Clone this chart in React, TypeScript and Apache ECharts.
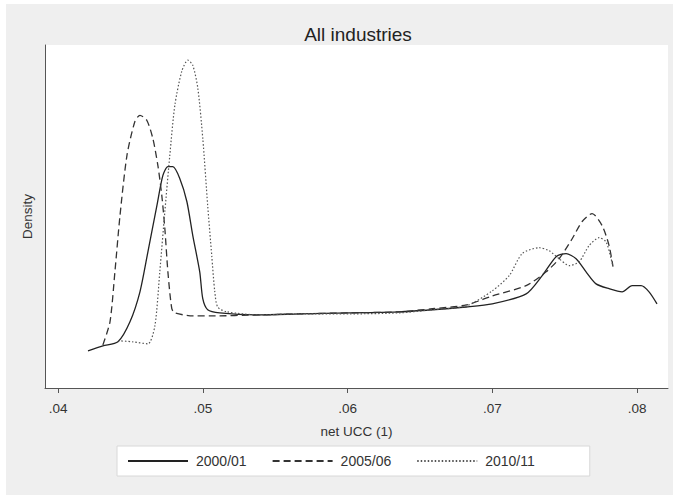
import React, { useEffect, useRef } from "react";
import * as echarts from "echarts";

// net UCC values (x) and estimated density heights (arbitrary units)
const solidX = [0.04207, 0.0431, 0.04414, 0.04497, 0.04566, 0.04621, 0.04683, 0.04724, 0.04759, 0.04793, 0.04841, 0.0489, 0.04931, 0.04979, 0.05, 0.05034, 0.05117, 0.05393, 0.05669, 0.06014, 0.06359, 0.06586, 0.06821, 0.07, 0.07234, 0.07345, 0.07441, 0.0751, 0.07579, 0.07648, 0.07717, 0.07807, 0.07897, 0.07966, 0.08028, 0.08083, 0.08138];
const solidY = [10.8, 12.2, 13.4, 19.2, 27.9, 39.5, 52.9, 61.6, 64.2, 64.2, 60.8, 54.1, 44.2, 33.7, 25.9, 22.7, 21.8, 21.2, 21.5, 21.8, 22.1, 22.7, 23.5, 24.4, 27.3, 32.6, 38.1, 39.0, 37.5, 33.7, 30.2, 28.8, 27.9, 29.7, 29.7, 27.9, 24.4];

const dashedX = [0.0431, 0.04359, 0.04393, 0.04428, 0.04476, 0.04531, 0.04566, 0.04614, 0.04655, 0.0469, 0.04717, 0.04738, 0.04759, 0.04786, 0.04807, 0.04931, 0.05048, 0.05393, 0.05669, 0.06014, 0.06359, 0.06586, 0.06821, 0.07, 0.07234, 0.07372, 0.07462, 0.07552, 0.07621, 0.0769, 0.07759, 0.07807, 0.07834];
const dashedY = [12.5, 19.2, 33.7, 50.0, 67.4, 77.3, 79.1, 77.6, 72.4, 64.5, 55.8, 46.2, 33.7, 23.0, 21.8, 20.9, 20.9, 21.2, 21.5, 21.8, 22.1, 23.0, 24.1, 26.7, 29.7, 33.7, 37.5, 43.3, 48.3, 50.6, 47.1, 41.3, 35.2];

const dottedX = [0.04414, 0.04517, 0.04621, 0.04669, 0.04703, 0.04738, 0.04772, 0.04807, 0.04855, 0.04897, 0.04931, 0.04966, 0.05, 0.05034, 0.05062, 0.05083, 0.05103, 0.05166, 0.05393, 0.05669, 0.06014, 0.06359, 0.06586, 0.06821, 0.07, 0.07117, 0.07207, 0.07324, 0.07393, 0.07462, 0.07531, 0.076, 0.07669, 0.07738, 0.07786, 0.07821, 0.07834];
const dottedY = [13.7, 13.4, 12.8, 18.0, 33.7, 51.2, 67.4, 82.0, 91.9, 95.1, 93.6, 86.9, 72.4, 52.9, 38.4, 27.9, 23.5, 22.1, 21.2, 21.5, 21.5, 21.8, 22.7, 23.8, 28.2, 32.6, 39.0, 40.7, 39.8, 37.5, 35.5, 36.6, 41.3, 43.6, 42.4, 37.5, 35.2];

const seriesNames = ["2000/01", "2005/06", "2010/11"];
const xTicks = [0.04, 0.05, 0.06, 0.07, 0.08];

const zip = (xs: number[], ys: number[]) => xs.map((x, i) => [x, ys[i]]);

export default function App() {
  const ref = useRef<HTMLDivElement>(null);
  useEffect(() => {
    if (!ref.current) return;
    const chart = echarts.init(ref.current, undefined, { renderer: "svg" });
    const font = "'Liberation Sans', Arial, sans-serif";
    chart.setOption({
      animation: false,
      backgroundColor: "#ffffff",
      textStyle: { fontFamily: font },
      graphic: [
        {
          type: "rect",
          z: -10,
          silent: true,
          shape: { x: 6, y: 4, width: 667, height: 491 },
          style: { fill: "#efefef" },
        },
      ],
      title: {
        text: "All industries",
        left: 353,
        textAlign: "center",
        top: 20,
        textStyle: { fontFamily: font, fontSize: 19, fontWeight: "normal", color: "#222" },
      },
      legend: {
        data: seriesNames,
        left: 117,
        top: 446,
        itemWidth: 60,
        itemHeight: 14,
        itemGap: 25,
        padding: [8, 55, 8, 10],
        backgroundColor: "#ffffff",
        borderColor: "#d8d8d8",
        borderWidth: 1,
        itemStyle: { opacity: 0, color: "rgba(0,0,0,0)", borderWidth: 0 },
        textStyle: { fontFamily: font, fontSize: 14, color: "#333", padding: [0, 0, 0, 3] },
      },
      grid: {
        left: 45,
        right: 11,
        top: 45,
        bottom: 112,
        show: true,
        backgroundColor: "#ffffff",
        borderWidth: 0,
      },
      xAxis: {
        type: "value",
        min: 0.0391,
        max: 0.08214,
        name: "net UCC (1)",
        nameLocation: "middle",
        nameGap: 36,
        nameTextStyle: { fontFamily: font, fontSize: 13.5, color: "#333" },
        splitLine: { show: false },
        axisLine: { show: true, lineStyle: { color: "#555", width: 1 } },
        axisTick: { show: true, length: 5, customValues: xTicks, lineStyle: { color: "#555" } },
        axisLabel: {
          customValues: xTicks,
          margin: 13,
          fontSize: 13.5,
          color: "#333",
          fontFamily: font,
          formatter: (v: number) => v.toFixed(2).replace(/^0/, ""),
        },
      },
      yAxis: {
        type: "value",
        min: 0,
        max: 99.5,
        name: "Density",
        nameLocation: "middle",
        nameGap: 11,
        nameTextStyle: { fontFamily: font, fontSize: 13.5, color: "#333" },
        splitLine: { show: false },
        axisLine: { show: true, lineStyle: { color: "#555", width: 1 } },
        axisTick: { show: false },
        axisLabel: { show: false },
      },
      series: [
        {
          name: seriesNames[0],
          type: "line",
          data: zip(solidX, solidY),
          symbol: "none",
          smooth: 0.25,
          lineStyle: { color: "#222", width: 1.3, type: "solid" },
          itemStyle: { color: "#222" },
        },
        {
          name: seriesNames[1],
          type: "line",
          data: zip(dashedX, dashedY),
          symbol: "none",
          smooth: 0.25,
          lineStyle: { color: "#333", width: 1.3, type: [7, 4] },
          itemStyle: { color: "#333" },
        },
        {
          name: seriesNames[2],
          type: "line",
          data: zip(dottedX, dottedY),
          symbol: "none",
          smooth: 0.25,
          lineStyle: { color: "#555", width: 1.2, type: [1.5, 2] },
          itemStyle: { color: "#555" },
        },
      ],
    });
    return () => chart.dispose();
  }, []);
  return (
    <div
      ref={ref}
      style={{ position: "absolute", left: 0, top: 0, width: 679, height: 500 }}
    />
  );
}
